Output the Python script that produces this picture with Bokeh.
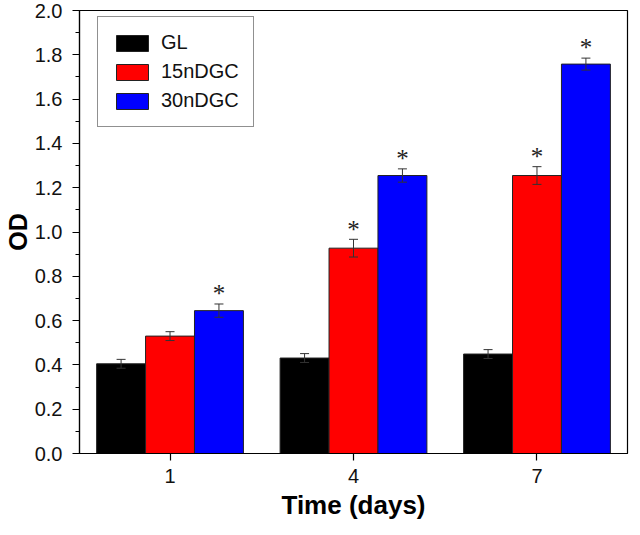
from bokeh.plotting import figure
from bokeh.models import Range1d, FixedTicker, ColumnDataSource, Whisker, TeeHead, PrintfTickFormatter
from bokeh.core.properties import value
from bokeh.embed import file_html
from bokeh.resources import INLINE

# ---- data ----
days = [1, 4, 7]
day_labels = ["1", "4", "7"]
series_names = ["GL", "15nDGC", "30nDGC"]
gl = [0.405, 0.431, 0.449]
gl_err = [0.02, 0.02, 0.02]
n15 = [0.53, 0.927, 1.255]
n15_err = [0.02, 0.04, 0.04]
n30 = [0.645, 1.255, 1.758]
n30_err = [0.03, 0.03, 0.027]
sig_gl = [False, False, False]
sig15 = [False, True, True]
sig30 = [True, True, True]
y_ticks = [0.0, 0.2, 0.4, 0.6, 0.8, 1.0, 1.2, 1.4, 1.6, 1.8, 2.0]
y_minor = [0.1, 0.3, 0.5, 0.7, 0.9, 1.1, 1.3, 1.5, 1.7, 1.9]

FONT = "Liberation Sans"
colors = ["#000000", "#FF0000", "#0000FF"]
offsets = [-0.8, 0.0, 0.8]
bar_w = 0.8
FH = 443

p = figure(frame_width=548, frame_height=FH,
           x_range=Range1d(-0.48, 8.48), y_range=Range1d(0, 2.0),
           output_backend="svg", toolbar_location=None,
           min_border_left=74, min_border_top=10, min_border_right=2, min_border_bottom=66)
p.background_fill_color = "white"
p.border_fill_color = "white"
p.grid.visible = False
p.outline_line_color = "#000000"
p.outline_line_width = 1.2

series = [(gl, gl_err, sig_gl), (n15, n15_err, sig15), (n30, n30_err, sig30)]
for (vals, errs, sigs), name, col, off in zip(series, series_names, colors, offsets):
    xs = [d + off for d in days]
    p.vbar(x=xs, top=vals, width=bar_w, bottom=0, fill_color=col,
           line_color="#222222", line_width=1, legend_label=name)
    src = ColumnDataSource(data=dict(x=xs,
                                     upper=[v + e for v, e in zip(vals, errs)],
                                     lower=[v - e for v, e in zip(vals, errs)]))
    w = Whisker(base="x", upper="upper", lower="lower", source=src,
                line_color="#333333", line_width=1, level="overlay",
                upper_head=TeeHead(size=9, line_color="#333333", line_width=1),
                lower_head=TeeHead(size=9, line_color="#333333", line_width=1))
    p.add_layout(w)
    sx = [x for x, s in zip(xs, sigs) if s]
    sy = [v + e + 0.046 for v, e, s in zip(vals, errs, sigs) if s]
    if sx:
        p.text(x=sx, y=sy, text=["*"] * len(sx), text_align="center",
               text_baseline="middle", text_font=value("Liberation Serif"),
               text_font_size="25px", text_color="#222222")

# axes
p.xaxis.ticker = FixedTicker(ticks=days)
p.xaxis.major_label_overrides = {d: l for d, l in zip(days, day_labels)}
p.yaxis.ticker = FixedTicker(ticks=y_ticks, minor_ticks=y_minor)
p.yaxis.formatter = PrintfTickFormatter(format="%.1f")

for ax in (p.xaxis[0], p.yaxis[0]):
    ax.axis_line_color = "#000000"
    ax.axis_line_width = 1.2
    ax.major_tick_line_color = "#000000"
    ax.major_tick_line_width = 1.2
    ax.major_tick_in = 0
    ax.major_tick_out = 7
    ax.minor_tick_in = 0
    ax.minor_tick_out = 4
    ax.minor_tick_line_color = "#000000"
    ax.major_label_text_font = FONT
    ax.major_label_text_font_size = "20px"
    ax.major_label_text_color = "#111111"
    ax.axis_label_text_font = FONT
    ax.axis_label_text_font_style = "bold"
    ax.axis_label_text_color = "#000000"

p.xaxis.minor_tick_line_color = None
p.xaxis.axis_label = "Time (days)"
p.xaxis.axis_label_text_font_size = "26px"
p.xaxis.major_label_standoff = 8
p.xaxis.axis_label_standoff = 4
p.yaxis.axis_label = "OD"
p.yaxis.axis_label_text_font_size = "25px"
p.yaxis.major_label_standoff = 10
p.yaxis.axis_label_standoff = 0

# legend
lg = p.legend[0]
lg.location = (18, FH - 13 - 104)
lg.padding = 14
lg.spacing = 6
lg.glyph_width = 40
lg.glyph_height = 20
lg.label_height = 20
lg.label_standoff = 9
lg.label_text_font = FONT
lg.label_text_font_size = "20px"
lg.label_text_color = "#111111"
lg.border_line_color = "#222222"
lg.border_line_width = 1.5
lg.background_fill_alpha = 1.0

open("out.html", "w").write(file_html(p, INLINE))
